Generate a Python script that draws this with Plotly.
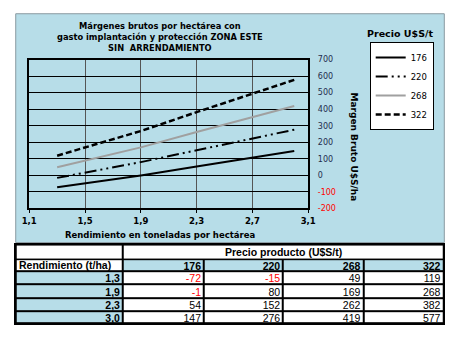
import plotly.graph_objects as go
import numpy as np

W, H = 461, 343

# ---- data ----
yields = [1.3, 1.9, 2.3, 3.0]
prices = [176, 220, 268, 322]
margin_176 = [-72, -1, 54, 147]
margin_220 = [-15, 80, 152, 276]
margin_268 = [49, 169, 262, 419]
margin_322 = [119, 268, 382, 577]
margins = [margin_176, margin_220, margin_268, margin_322]
x_ticks = [1.1, 1.5, 1.9, 2.3, 2.7, 3.1]
y_ticks = [-200, -100, 0, 100, 200, 300, 400, 500, 600, 700]
table_header = "Precio producto (U$S/t)"
row_header = "Rendimiento (t/ha)"

# ---- style / layout constants ----
BLUE = "#B7DDE8"
FONT = "DejaVu Sans"
TFONT = "Liberation Sans"
TSIZE = 10.5
col_widths = [111, 84, 82, 83, 83]
row_heights = [15, 12, 14, 14, 13, 13]


def fx(px):
    return px / W


def fy(py):
    return 1 - py / H


def fmt_num(v):
    return f"{v:.1f}".replace(".", ",")


styles = [
    dict(color="black", width=2, dash="solid"),
    dict(color="black", width=2, dash="12px,4px,2px,4px,2px,4px"),
    dict(color="#a0a0a0", width=2, dash="solid"),
    dict(color="black", width=2.5, dash="6px,3px"),
]

fig = go.Figure()
for p, m, st in zip(prices, margins, styles):
    fig.add_trace(go.Scatter(x=yields, y=m, mode="lines", name=str(p), line=st,
                             xaxis="x", yaxis="y"))

# ---- table drawn on its own axes (x2/y2) ----
xe = np.concatenate([[0], np.cumsum(col_widths)])
ye = np.concatenate([[0], np.cumsum(row_heights)])
# merged top row
fig.add_trace(go.Heatmap(x=[xe[0], xe[1], xe[-1]], y=[ye[0], ye[1]], z=[[0, 0]],
                         zmin=0, zmax=1, colorscale=[[0, "white"], [1, BLUE]],
                         showscale=False, xgap=2, ygap=2, hoverinfo="skip",
                         xaxis="x2", yaxis="y2", showlegend=False))
# body: first row = price headers, then yield rows
z_body = [[0, 1, 1, 1, 1]] + [[1, 0, 0, 0, 0] for _ in yields]
fig.add_trace(go.Heatmap(x=list(xe), y=list(ye[1:]), z=z_body,
                         zmin=0, zmax=1, colorscale=[[0, "white"], [1, BLUE]],
                         showscale=False, xgap=2, ygap=2, hoverinfo="skip",
                         xaxis="x2", yaxis="y2", showlegend=False))

row_mid = [(ye[i] + ye[i + 1]) / 2 + 2 for i in range(len(ye) - 1)]
pad = 3
# price headers
fig.add_trace(go.Scatter(x=[xe[i + 2] - pad for i in range(len(prices))],
                         y=[row_mid[1]] * len(prices), mode="text",
                         text=["<b>%d</b>" % p for p in prices], textposition="middle left",
                         textfont=dict(family=TFONT, size=TSIZE, color="black"),
                         xaxis="x2", yaxis="y2", showlegend=False, hoverinfo="skip"))
# yield labels
fig.add_trace(go.Scatter(x=[xe[1] - pad] * len(yields), y=row_mid[2:], mode="text",
                         text=["<b>" + fmt_num(v) + "</b>" for v in yields],
                         textposition="middle left",
                         textfont=dict(family=TFONT, size=TSIZE, color="black"),
                         xaxis="x2", yaxis="y2", showlegend=False, hoverinfo="skip"))
# values
for j, m in enumerate(margins):
    fig.add_trace(go.Scatter(x=[xe[j + 2] - pad] * len(m), y=row_mid[2:], mode="text",
                             text=[str(v) for v in m], textposition="middle left",
                             textfont=dict(family=TFONT, size=TSIZE,
                                           color=["red" if v < 0 else "black" for v in m]),
                             xaxis="x2", yaxis="y2", showlegend=False, hoverinfo="skip"))

ytext = []
for v in y_ticks:
    if v < 0:
        ytext.append("<span style='color:#ff0000'>%d</span>" % v)
    else:
        ytext.append(str(v))

table_top, table_bottom = 247, 247 + sum(row_heights)

fig.update_layout(
    width=W, height=H,
    margin=dict(l=0, r=0, t=0, b=0),
    paper_bgcolor="white",
    plot_bgcolor="white",
    font=dict(family=FONT, size=8, color="black"),
    showlegend=True,
    legend=dict(x=fx(441), y=fy(39), xanchor="right", yanchor="top",
                bgcolor="white", bordercolor="black", borderwidth=1,
                font=dict(family=FONT, size=8.5, color="black"),
                tracegroupgap=0, itemwidth=30),
    xaxis=dict(domain=[fx(22), fx(311)], range=[1.1, 3.1], tickvals=x_ticks,
               ticktext=["<b>" + fmt_num(v) + "</b>" for v in x_ticks],
               showgrid=True, gridcolor="#555555", gridwidth=1,
               showline=True, linecolor="black", linewidth=2, mirror=True,
               ticks="outside", ticklen=3, tickcolor="black",
               tickfont=dict(family=FONT, size=8.5, color="black"),
               zeroline=False, fixedrange=True),
    yaxis=dict(domain=[fy(210), fy(57)], range=[-200, 700], side="right",
               tickvals=y_ticks, ticktext=ytext,
               showgrid=True, gridcolor="black", gridwidth=1,
               showline=True, linecolor="black", linewidth=2, mirror=True,
               ticks="", ticklabelstandoff=6,
               tickfont=dict(family=FONT, size=8, color="#1f2d4d"),
               zeroline=False, fixedrange=True),
    xaxis2=dict(domain=[fx(8), fx(451)], range=[xe[0], xe[-1]], anchor="y2",
                showgrid=False, zeroline=False, showticklabels=False, ticks="",
                showline=True, linecolor="black", linewidth=2, mirror=True, fixedrange=True),
    yaxis2=dict(domain=[fy(table_bottom), fy(table_top)], range=[ye[-1], ye[0]], anchor="x2",
                showgrid=False, zeroline=False, showticklabels=False, ticks="",
                showline=True, linecolor="black", linewidth=2, mirror=True, fixedrange=True),
    shapes=[
        dict(type="rect", xref="paper", yref="paper",
             x0=fx(8), x1=fx(452), y0=fy(245), y1=fy(10),
             fillcolor=BLUE, line=dict(color="#8a9aa0", width=1), layer="below"),
        dict(type="rect", xref="x2 domain", yref="y2 domain", x0=0, x1=1, y0=0, y1=1,
             fillcolor="black", line=dict(width=0), layer="below"),
    ],
    annotations=[
        dict(text="<b>Márgenes brutos por hectárea con<br>gasto implantación y protección ZONA ESTE<br>SIN  ARRENDAMIENTO</b>",
             x=fx(157), y=fy(33.5), xref="paper", yref="paper", showarrow=False,
             xanchor="center", yanchor="middle",
             font=dict(family=FONT, size=8.3, color="black"), align="center"),
        dict(text="<b>Rendimiento en toneladas por hectárea</b>",
             x=fx(157), y=fy(237), xref="paper", yref="paper", showarrow=False,
             xanchor="center", yanchor="middle",
             font=dict(family=FONT, size=8.5, color="black")),
        dict(text="<b>Margen Bruto U$S/ha</b>", textangle=90,
             x=fx(358), y=fy(147), xref="paper", yref="paper", showarrow=False,
             xanchor="center", yanchor="middle",
             font=dict(family=FONT, size=9, color="black")),
        dict(text="<b>Precio U$S/t</b>",
             x=fx(406), y=fy(30), xref="paper", yref="paper", showarrow=False,
             xanchor="center", yanchor="middle",
             font=dict(family=FONT, size=9.5, color="black")),
        dict(text="<b>" + table_header + "</b>",
             x=(xe[1] + xe[-1]) / 2, y=(ye[0] + ye[1]) / 2, xref="x2", yref="y2",
             showarrow=False, xanchor="center", yanchor="middle",
             font=dict(family=TFONT, size=TSIZE, color="black")),
        dict(text="<b>" + row_header + "</b>",
             x=xe[0] + 1, y=(ye[1] + ye[2]) / 2, xref="x2", yref="y2",
             showarrow=False, xanchor="left", yanchor="middle",
             font=dict(family=TFONT, size=TSIZE, color="black")),
    ],
)

fig.write_html("out.html")
